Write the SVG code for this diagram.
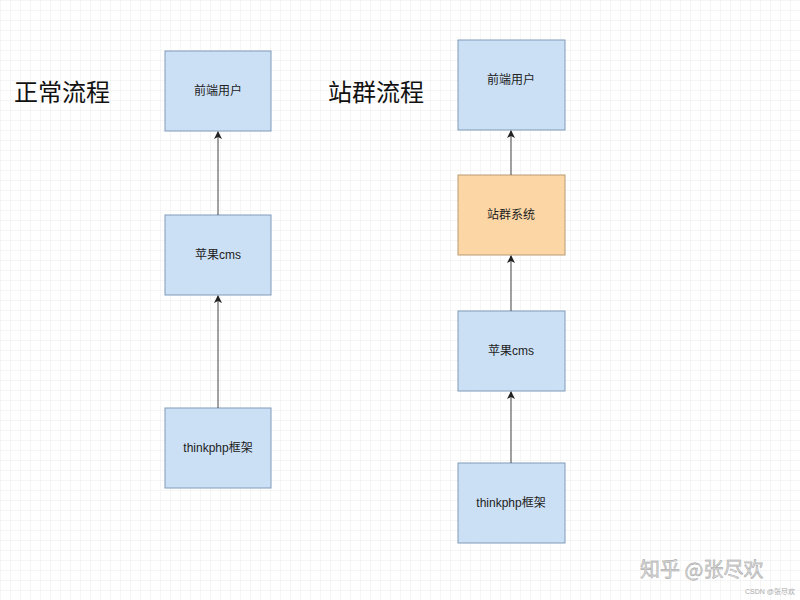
<svg xmlns="http://www.w3.org/2000/svg" width="800" height="600" viewBox="0 0 800 600">
<defs>
<pattern id="g" width="10" height="10" patternUnits="userSpaceOnUse"><path d="M10 0H0V10" fill="none" stroke="#ececec" stroke-width="1"/></pattern>
<marker id="a" markerWidth="8" markerHeight="8" refX="7" refY="4" orient="auto" markerUnits="userSpaceOnUse"><path d="M0,0 L8,4 L0,8 L2,4 Z" fill="#222"/></marker>
<style>
.b{fill:#cce0f5;stroke:#7f9ab8;stroke-width:1}
.o{fill:#fdd6a5;stroke:#b89a70;stroke-width:1}
.t{font-family:"Liberation Sans","Noto Sans CJK SC",sans-serif;font-size:12px;fill:#222;text-anchor:middle;dominant-baseline:central}
.h{font-family:"Noto Sans CJK SC",sans-serif;font-size:24px;fill:#111}
.c{stroke:#444;stroke-width:1;fill:none;marker-end:url(#a)}
</style>
</defs>
<rect width="800" height="600" fill="#fff"/>
<rect width="800" height="600" fill="url(#g)"/>
<text class="h" x="14" y="101">正常流程</text>
<text class="h" x="328" y="101">站群流程</text>
<g id="l1"><rect class="b" x="165" y="51" width="106" height="80"/><text class="t" x="218" y="91">前端用户</text></g>
<g id="l2"><rect class="b" x="165" y="215" width="106" height="80"/><text class="t" x="218" y="255">苹果cms</text></g>
<g id="l3"><rect class="b" x="165" y="408" width="106" height="80"/><text class="t" x="218" y="448">thinkphp框架</text></g>
<g id="r1"><rect class="b" x="458" y="40" width="107" height="90"/><text class="t" x="511" y="80">前端用户</text></g>
<g id="r2"><rect class="o" x="458" y="175" width="107" height="80"/><text class="t" x="511" y="215">站群系统</text></g>
<g id="r3"><rect class="b" x="458" y="311" width="107" height="80"/><text class="t" x="511" y="351">苹果cms</text></g>
<g id="r4"><rect class="b" x="458" y="463" width="107" height="80"/><text class="t" x="511" y="503">thinkphp框架</text></g>
<g id="connectors">
<path class="c" d="M218 215V132"/>
<path class="c" d="M218 408V296"/>
<path class="c" d="M511 175V131"/>
<path class="c" d="M511 311V256"/>
<path class="c" d="M511 463V392"/>
</g>
<text x="640" y="577" font-family="Noto Sans CJK SC,sans-serif" font-size="20" fill="#d8d8d8" stroke="#999" stroke-width="0.4">知乎 @张尽欢</text>
<text x="745" y="594" font-family="Liberation Sans,Noto Sans CJK SC,sans-serif" font-size="7" fill="#aaa">CSDN @张尽欢</text>
</svg>
